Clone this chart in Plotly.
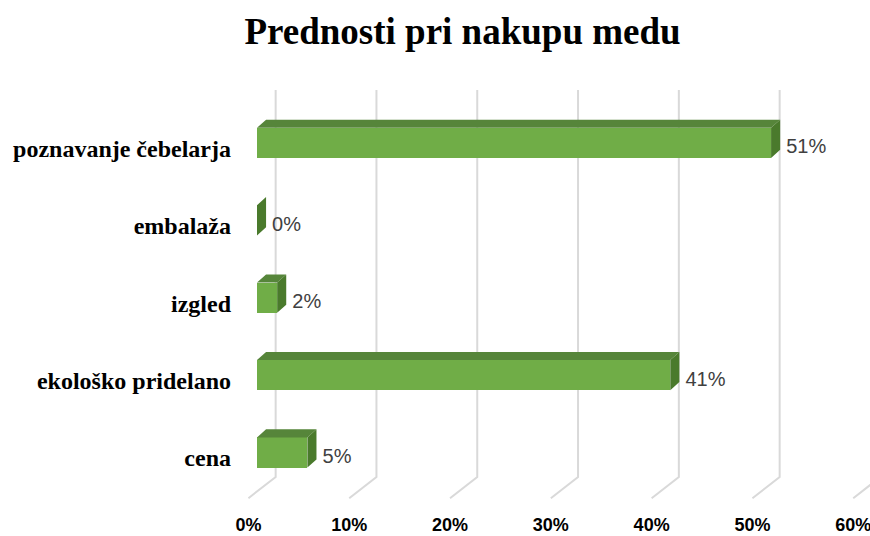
import plotly.graph_objects as go

# ---- data ----
categories = ["cena", "ekološko pridelano", "izgled", "embalaža", "poznavanje čebelarja"]
values = [5, 41, 2, 0, 51]
tick_values = [0, 10, 20, 30, 40, 50, 60]
tick_labels = ["0%", "10%", "20%", "30%", "40%", "50%", "60%"]
title_text = "Prednosti pri nakupu medu"

# ---- styling / pseudo-3D geometry (in axis units) ----
FRONT = "#70AD47"
TOP = "#56853A"
SIDE = "#4A7A2C"
GRID = "#D9D9D9"
BAR_W = 0.39          # bar thickness (category units)
DX, DY = 0.9, 0.105   # depth offset of bar back faces
BACK_DX = 1.85        # back wall offset for gridlines
FLOOR_DX = -0.85      # floor front edge offset
GRID_TOP, GRID_BOT, FLOOR_Y = 4.683, -0.3165, -0.59

W, H = 870, 536
ML, MR, MT, MB = 240, 0, 80, 36
PX_PER_UNIT = 10.08
X0 = (ML - 257) / PX_PER_UNIT
X1 = X0 + (W - ML - MR) / PX_PER_UNIT
CAT_PX = 77.4
Y1 = (452.5 - MT) / CAT_PX
Y0 = Y1 - (H - MT - MB) / CAT_PX

idx = list(range(len(categories)))

fig = go.Figure()

# gridlines on back wall + slanted floor lines (below all traces)
for t in tick_values:
    fig.add_shape(type="path", xref="x", yref="y", layer="below",
                  path=f"M {t + BACK_DX},{GRID_TOP} L {t + BACK_DX},{GRID_BOT} L {t + FLOOR_DX},{FLOOR_Y}",
                  line=dict(color=GRID, width=2))

# front faces
fig.add_trace(go.Bar(y=idx, x=values, orientation="h", width=BAR_W,
                     marker=dict(color=FRONT, line=dict(width=0)),
                     showlegend=False, hoverinfo="skip"))

# top faces
tx, ty = [], []
for i, v in zip(idx, values):
    yt = i + BAR_W / 2
    tx += [0, v, v + DX, DX, 0, None]
    ty += [yt, yt, yt + DY, yt + DY, yt, None]
fig.add_trace(go.Scatter(x=tx, y=ty, mode="lines", fill="toself", fillcolor=TOP,
                         line=dict(width=0, color=TOP), hoverinfo="skip", showlegend=False))

# side faces
sx, sy = [], []
for i, v in zip(idx, values):
    yb, yt = i - BAR_W / 2, i + BAR_W / 2
    sx += [v, v, v + DX, v + DX, v, None]
    sy += [yb, yt, yt + DY, yb + DY, yb, None]
fig.add_trace(go.Scatter(x=sx, y=sy, mode="lines", fill="toself", fillcolor=SIDE,
                         line=dict(width=0, color=SIDE), hoverinfo="skip", showlegend=False))

# data labels
fig.add_trace(go.Scatter(x=[v + DX + 0.6 for v in values], y=[i - 0.07 for i in idx],
                         mode="text", text=[f"{v}%" for v in values],
                         textposition="middle right",
                         textfont=dict(family="Liberation Sans", size=20, color="#404040"),
                         hoverinfo="skip", showlegend=False))

# invisible trace to anchor the floor-front axis
fig.add_trace(go.Scatter(x=[tick_values[0]], y=[0], xaxis="x2", mode="markers",
                         marker=dict(opacity=0), hoverinfo="skip", showlegend=False))

fig.update_layout(
    width=W, height=H,
    margin=dict(l=ML, r=MR, t=MT, b=MB),
    paper_bgcolor="white", plot_bgcolor="white",
    title=dict(text=title_text, x=462.5 / W, xanchor="center", xref="container",
               y=1 - 31 / H, yanchor="middle", yref="container",
               font=dict(family="Liberation Serif", size=37, color="black", weight="bold")),
    xaxis=dict(range=[X0, X1], showgrid=False, zeroline=False, showline=False,
               showticklabels=False, fixedrange=True, automargin=False),
    xaxis2=dict(range=[X0 - FLOOR_DX, X1 - FLOOR_DX], overlaying="x", side="bottom",
                showgrid=False, zeroline=False, showline=False, automargin=False,
                tickmode="array", tickvals=tick_values, ticktext=tick_labels,
                ticks="", ticklabelstandoff=12, ticklabeloverflow="allow",
                tickfont=dict(family="Liberation Sans", size=18, color="black", weight="bold")),
    yaxis=dict(range=[Y0, Y1], showgrid=False, zeroline=False, showline=False,
               tickmode="array", tickvals=[i - 0.07 for i in idx], ticktext=categories,
               ticks="", ticklabelstandoff=8, automargin=False,
               tickfont=dict(family="Liberation Serif", size=24, color="black", weight="bold")),
    bargap=0,
)

fig.write_html("out.html", config={"displayModeBar": False},
               post_script="document.body.style.margin='0px';document.body.style.overflow='hidden';")
